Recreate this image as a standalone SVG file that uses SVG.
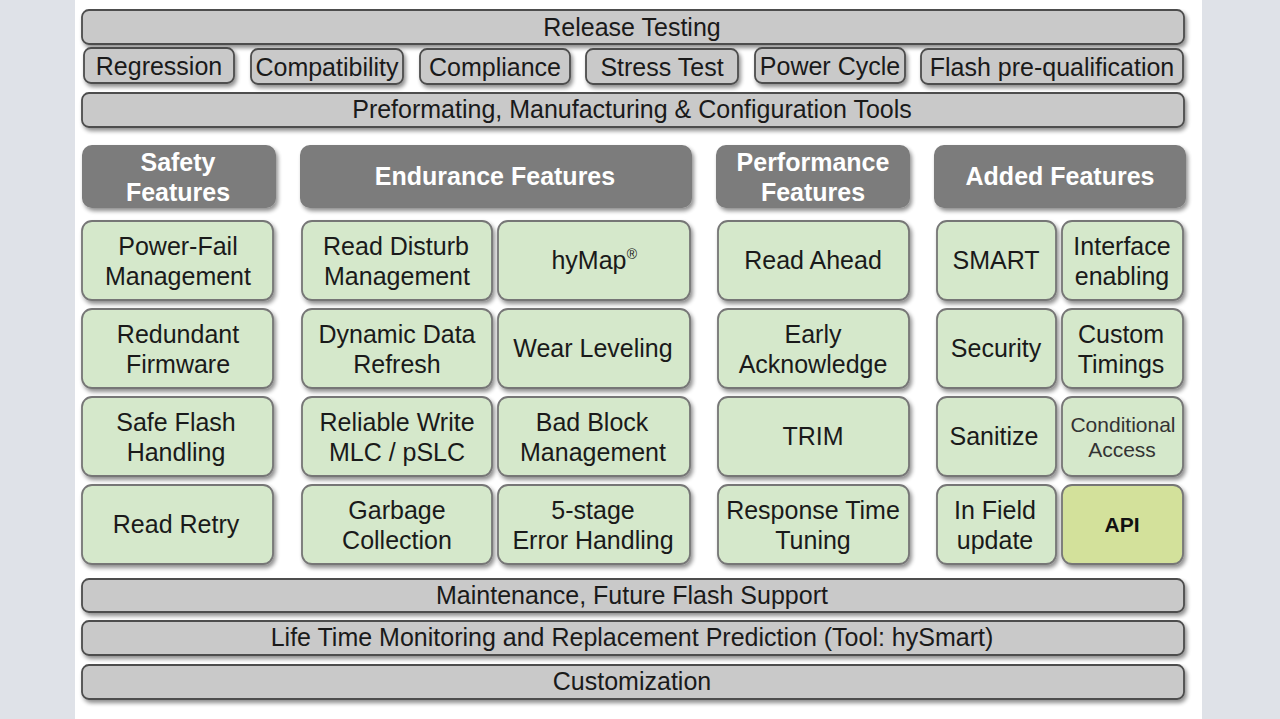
<svg xmlns="http://www.w3.org/2000/svg" width="1280" height="719" viewBox="0 0 1280 719">
<defs>
<filter id="sh" x="-10%" y="-10%" width="125%" height="140%">
<feGaussianBlur in="SourceAlpha" stdDeviation="2"/>
<feOffset dx="2" dy="3" result="b"/>
<feComponentTransfer><feFuncA type="linear" slope="0.45"/></feComponentTransfer>
<feMerge><feMergeNode/><feMergeNode in="SourceGraphic"/></feMerge>
</filter>
</defs>
<style>
.bar{fill:#c9c9c9;stroke:#4d4d4d;stroke-width:1.8;filter:url(#sh)}
.hdr{fill:#7b7b7b;stroke:none;filter:url(#sh)}
.grn{fill:#d5e8cb;stroke:#767676;stroke-width:1.8;filter:url(#sh)}
.api{fill:#d3e19b;stroke:#767676;stroke-width:1.8;filter:url(#sh)}
text{font-family:"Liberation Sans",Arial,sans-serif;text-anchor:middle;fill:#1a1a1a}
.t{font-size:25px}
.h{font-size:25px;font-weight:bold;fill:#fff}
.s{font-size:21px}
</style>
<rect x="0" y="0" width="1280" height="719" fill="#dfe2e8"/>
<rect x="75" y="0" width="1127" height="719" fill="#ffffff"/>

<g id="release-testing"><rect class="bar" x="82" y="10" width="1102" height="34" rx="7"/><text class="t" x="632" y="36">Release Testing</text></g>
<g id="regression"><rect class="bar" x="84" y="48" width="150" height="35" rx="7"/><text class="t" x="159" y="75">Regression</text></g>
<g id="compatibility"><rect class="bar" x="251" y="49" width="152" height="35" rx="7"/><text class="t" x="327" y="76">Compatibility</text></g>
<g id="compliance"><rect class="bar" x="420" y="49" width="150" height="35" rx="7"/><text class="t" x="495" y="76">Compliance</text></g>
<g id="stress-test"><rect class="bar" x="586" y="49" width="152" height="35" rx="7"/><text class="t" x="662" y="76">Stress Test</text></g>
<g id="power-cycle"><rect class="bar" x="755" y="48" width="150" height="35" rx="7"/><text class="t" x="830" y="75">Power Cycle</text></g>
<g id="flash-prequal"><rect class="bar" x="921" y="49" width="262" height="35" rx="7"/><text class="t" x="1052" y="76">Flash pre-qualification</text></g>
<g id="preformating"><rect class="bar" x="82" y="93" width="1102" height="34" rx="7"/><text class="t" x="632" y="118">Preformating, Manufacturing &amp; Configuration Tools</text></g>

<g id="hdr-safety"><rect class="hdr" x="82" y="145" width="194" height="63" rx="10"/><text class="h" x="178" y="171">Safety</text><text class="h" x="178" y="201">Features</text></g>
<g id="hdr-endurance"><rect class="hdr" x="300" y="145" width="392" height="63" rx="10"/><text class="h" x="495" y="185">Endurance Features</text></g>
<g id="hdr-performance"><rect class="hdr" x="716" y="145" width="194" height="63" rx="10"/><text class="h" x="813" y="171">Performance</text><text class="h" x="813" y="201">Features</text></g>
<g id="hdr-added"><rect class="hdr" x="934" y="145" width="252" height="63" rx="10"/><text class="h" x="1060" y="185">Added Features</text></g>

<g id="power-fail"><rect class="grn" x="82" y="221" width="191" height="79" rx="10"/><text class="t" x="178" y="255">Power-Fail</text><text class="t" x="178" y="285">Management</text></g>
<g id="redundant-fw"><rect class="grn" x="82" y="309" width="191" height="79" rx="10"/><text class="t" x="178" y="343">Redundant</text><text class="t" x="178" y="373">Firmware</text></g>
<g id="safe-flash"><rect class="grn" x="82" y="397" width="191" height="79" rx="10"/><text class="t" x="176" y="431">Safe Flash</text><text class="t" x="176" y="461">Handling</text></g>
<g id="read-retry"><rect class="grn" x="82" y="485" width="191" height="79" rx="10"/><text class="t" x="176" y="533">Read Retry</text></g>

<g id="read-disturb"><rect class="grn" x="302" y="221" width="190" height="79" rx="10"/><text class="t" x="396" y="255">Read Disturb</text><text class="t" x="397" y="285">Management</text></g>
<g id="hymap"><rect class="grn" x="498" y="221" width="192" height="79" rx="10"/><text class="t" x="589" y="269">hyMap</text><text x="632" y="259" style="font-size:14px">®</text></g>
<g id="dyn-refresh"><rect class="grn" x="302" y="309" width="190" height="79" rx="10"/><text class="t" x="397" y="343">Dynamic Data</text><text class="t" x="397" y="373">Refresh</text></g>
<g id="wear-leveling"><rect class="grn" x="498" y="309" width="192" height="79" rx="10"/><text class="t" x="593" y="357">Wear Leveling</text></g>
<g id="reliable-write"><rect class="grn" x="302" y="397" width="190" height="79" rx="10"/><text class="t" x="397" y="431">Reliable Write</text><text class="t" x="397" y="461">MLC / pSLC</text></g>
<g id="bad-block"><rect class="grn" x="498" y="397" width="192" height="79" rx="10"/><text class="t" x="592" y="431">Bad Block</text><text class="t" x="593" y="461">Management</text></g>
<g id="garbage"><rect class="grn" x="302" y="485" width="190" height="79" rx="10"/><text class="t" x="397" y="519">Garbage</text><text class="t" x="397" y="549">Collection</text></g>
<g id="five-stage"><rect class="grn" x="498" y="485" width="192" height="79" rx="10"/><text class="t" x="593" y="519">5-stage</text><text class="t" x="593" y="549">Error Handling</text></g>

<g id="read-ahead"><rect class="grn" x="718" y="221" width="191" height="79" rx="10"/><text class="t" x="813" y="269">Read Ahead</text></g>
<g id="early-ack"><rect class="grn" x="718" y="309" width="191" height="79" rx="10"/><text class="t" x="813" y="343">Early</text><text class="t" x="813" y="373">Acknowledge</text></g>
<g id="trim"><rect class="grn" x="718" y="397" width="191" height="79" rx="10"/><text class="t" x="813" y="445">TRIM</text></g>
<g id="response-time"><rect class="grn" x="718" y="485" width="191" height="79" rx="10"/><text class="t" x="813" y="519">Response Time</text><text class="t" x="813" y="549">Tuning</text></g>

<g id="smart"><rect class="grn" x="937" y="221" width="119" height="79" rx="10"/><text class="t" x="996" y="269">SMART</text></g>
<g id="interface"><rect class="grn" x="1062" y="221" width="121" height="79" rx="10"/><text class="t" x="1122" y="255">Interface</text><text class="t" x="1122" y="285">enabling</text></g>
<g id="security"><rect class="grn" x="937" y="309" width="119" height="79" rx="10"/><text class="t" x="996" y="357">Security</text></g>
<g id="custom-timings"><rect class="grn" x="1062" y="309" width="121" height="79" rx="10"/><text class="t" x="1121" y="343">Custom</text><text class="t" x="1121" y="373">Timings</text></g>
<g id="sanitize"><rect class="grn" x="937" y="397" width="119" height="79" rx="10"/><text class="t" x="994" y="445">Sanitize</text></g>
<g id="cond-access"><rect class="grn" x="1062" y="397" width="121" height="79" rx="10"/><text class="s" x="1123" y="432" style="fill:#333">Conditional</text><text class="s" x="1122" y="457" style="fill:#333">Access</text></g>
<g id="in-field"><rect class="grn" x="937" y="485" width="119" height="79" rx="10"/><text class="t" x="995" y="519">In Field</text><text class="t" x="995" y="549">update</text></g>
<g id="api"><rect class="api" x="1062" y="485" width="121" height="79" rx="10"/><text x="1122" y="532" style="font-size:21px;font-weight:bold;fill:#111">API</text></g>

<g id="maintenance"><rect class="bar" x="82" y="579" width="1102" height="33" rx="7"/><text class="t" x="632" y="604">Maintenance,  Future Flash Support</text></g>
<g id="lifetime"><rect class="bar" x="82" y="621" width="1102" height="34" rx="7"/><text class="t" x="632" y="646">Life Time Monitoring and Replacement Prediction (Tool: hySmart)</text></g>
<g id="customization"><rect class="bar" x="82" y="665" width="1102" height="34" rx="7"/><text class="t" x="632" y="690">Customization</text></g>
<g id="connectors"></g>
</svg>
